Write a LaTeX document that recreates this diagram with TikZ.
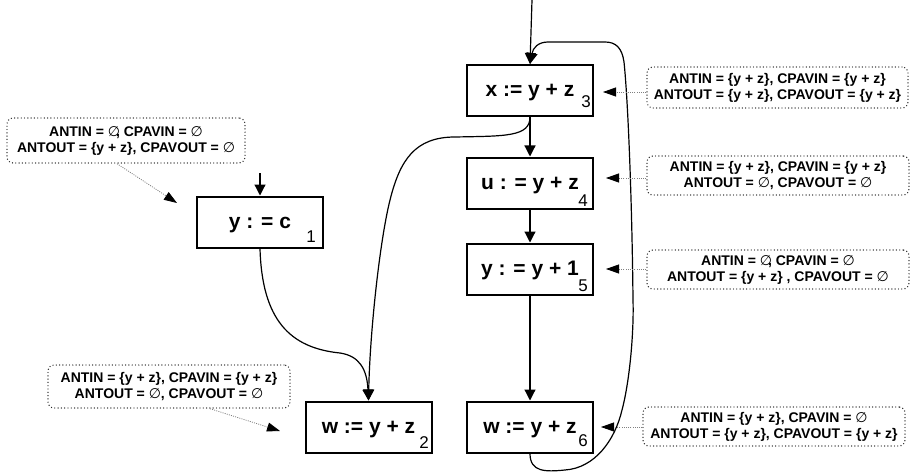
\documentclass[tikz,border=0pt]{standalone}
\usepackage{fontspec}
\setmainfont{Liberation Sans}
\newfontfamily\dejavu{DejaVu Sans}
\usetikzlibrary{arrows.meta}
% empty set glyph, set in a regular weight
\newcommand\nullset{{\dejavu\mdseries ∅}}
\begin{document}
\begin{tikzpicture}[x=1pt,y=-1pt,
  block/.style={draw, line width=2pt, minimum width=126pt, minimum height=51pt,
    inner sep=0pt, font=\fontsize{21}{25}\selectfont\bfseries,
    text height=15pt, text depth=2pt},
  idx/.style={inner sep=0pt, font=\fontsize{17}{20}\selectfont},
  note/.style={draw=black!85, line width=1.4pt, line cap=round,
    dash pattern=on 0pt off 3.3pt, rounded corners=6pt, align=center,
    inner sep=0pt, font=\fontsize{14}{16}\selectfont\bfseries},
  flow/.style={line width=1.2pt, -{Triangle[length=11pt,width=11pt]}},
  pointer/.style={draw=gray, line width=0.8pt, dash pattern=on 1pt off 1.2pt,
    -{Triangle[length=13pt,width=9pt,color=black]}}
]
\useasboundingbox (0,0) rectangle (910,476);

% basic blocks
\node[block] (b1) at (260,222) {y : = c};
\node[block] (b2) at (368.5,427) {w := y + z};
\node[block] (b3) at (530,90.5) {x := y + z};
\node[block] (b4) at (530,183) {u : = y + z};
\node[block] (b5) at (530,269) {y : = y + 1};
\node[block] (b6) at (530,427) {w := y + z};

% block numbers
\node[idx] (n1) at (311,237) {1};
\node[idx] (n2) at (424,443) {2};
\node[idx] (n3) at (586,102) {3};
\node[idx] (n4) at (583,201) {4};
\node[idx] (n5) at (583,286) {5};
\node[idx] (n6) at (583,441) {6};

% control flow
\coordinate (entry3) at (532,0);
\coordinate (entry1) at (260,173);
\draw[flow] (entry3) -- (b3.north);
\draw[flow] (entry1) -- (b1.north);
\draw[flow] (b3.south) -- (b4.north);
\draw[flow] (b4.south) -- (b5.north);
\draw[flow] (b5.south) -- (b6.north);
\draw[flow] (b1.south) .. controls (262,320) and (290,348) .. (340,353)
  .. controls (360,356) and (367,370) .. (b2.north);
\draw[flow] (b3.south) .. controls (530,137) and (505,136) .. (455,137)
  .. controls (415,137) and (400,160) .. (390,200)
  .. controls (380,240) and (370,330) .. (b2.north);
\draw[flow] (b6.south) .. controls (530,472) and (545,472) .. (565,470)
  .. controls (595,468) and (615,440) .. (622,410)
  .. controls (630,380) and (634,330) .. (633,300)
  .. controls (632,200) and (628,100) .. (624,62)
  .. controls (622,48) and (616,42) .. (605,42) -- (548,42)
  .. controls (538,42) and (533,48) .. (b3.north);

% dataflow annotations
\node[note, minimum width=238pt, minimum height=45pt] (a1) at (126,140.5)
  {ANTIN = \nullset\kern-4pt, CPAVIN = \nullset\\ANTOUT = \{y + z\}, CPAVOUT = \nullset};
\node[note, minimum width=242pt, minimum height=43pt] (a2) at (169,386.5)
  {ANTIN = \{y + z\}, CPAVIN = \{y + z\}\\ANTOUT = \nullset, CPAVOUT = \nullset};
\node[note, minimum width=261pt, minimum height=41pt] (a3) at (777.5,87.5)
  {ANTIN = \{y + z\}, CPAVIN = \{y + z\}\\ANTOUT = \{y + z\}, CPAVOUT = \{y + z\}};
\node[note, minimum width=262pt, minimum height=39pt] (a4) at (778,175.5)
  {ANTIN = \{y + z\}, CPAVIN = \{y + z\}\\ANTOUT = \nullset, CPAVOUT = \nullset};
\node[note, minimum width=262pt, minimum height=39pt] (a5) at (778,269.5)
  {ANTIN = \nullset\kern-4pt, CPAVIN = \nullset\\ANTOUT = \{y + z\} , CPAVOUT = \nullset};
\node[note, minimum width=262pt, minimum height=39pt] (a6) at (774,426.5)
  {ANTIN = \{y + z\}, CPAVIN = \nullset\\ANTOUT = \{y + z\}, CPAVOUT = \{y + z\}};

% annotation pointers
\coordinate (t1) at (177,203);
\coordinate (t2) at (280,431);
\coordinate (t3) at (603,92);
\coordinate (t4) at (606,178);
\coordinate (t5) at (606,269);
\coordinate (t6) at (601,427);
\draw[pointer] ([xshift=-9pt]a1.south) -- (t1);
\draw[pointer] ([xshift=41pt]a2.south) -- (t2);
\draw[pointer] (a3.west |- t3) -- (t3);
\draw[pointer] (a4.west |- t4) -- (t4);
\draw[pointer] (a5.west |- t5) -- (t5);
\draw[pointer] (a6.west |- t6) -- (t6);
\end{tikzpicture}
\end{document}
